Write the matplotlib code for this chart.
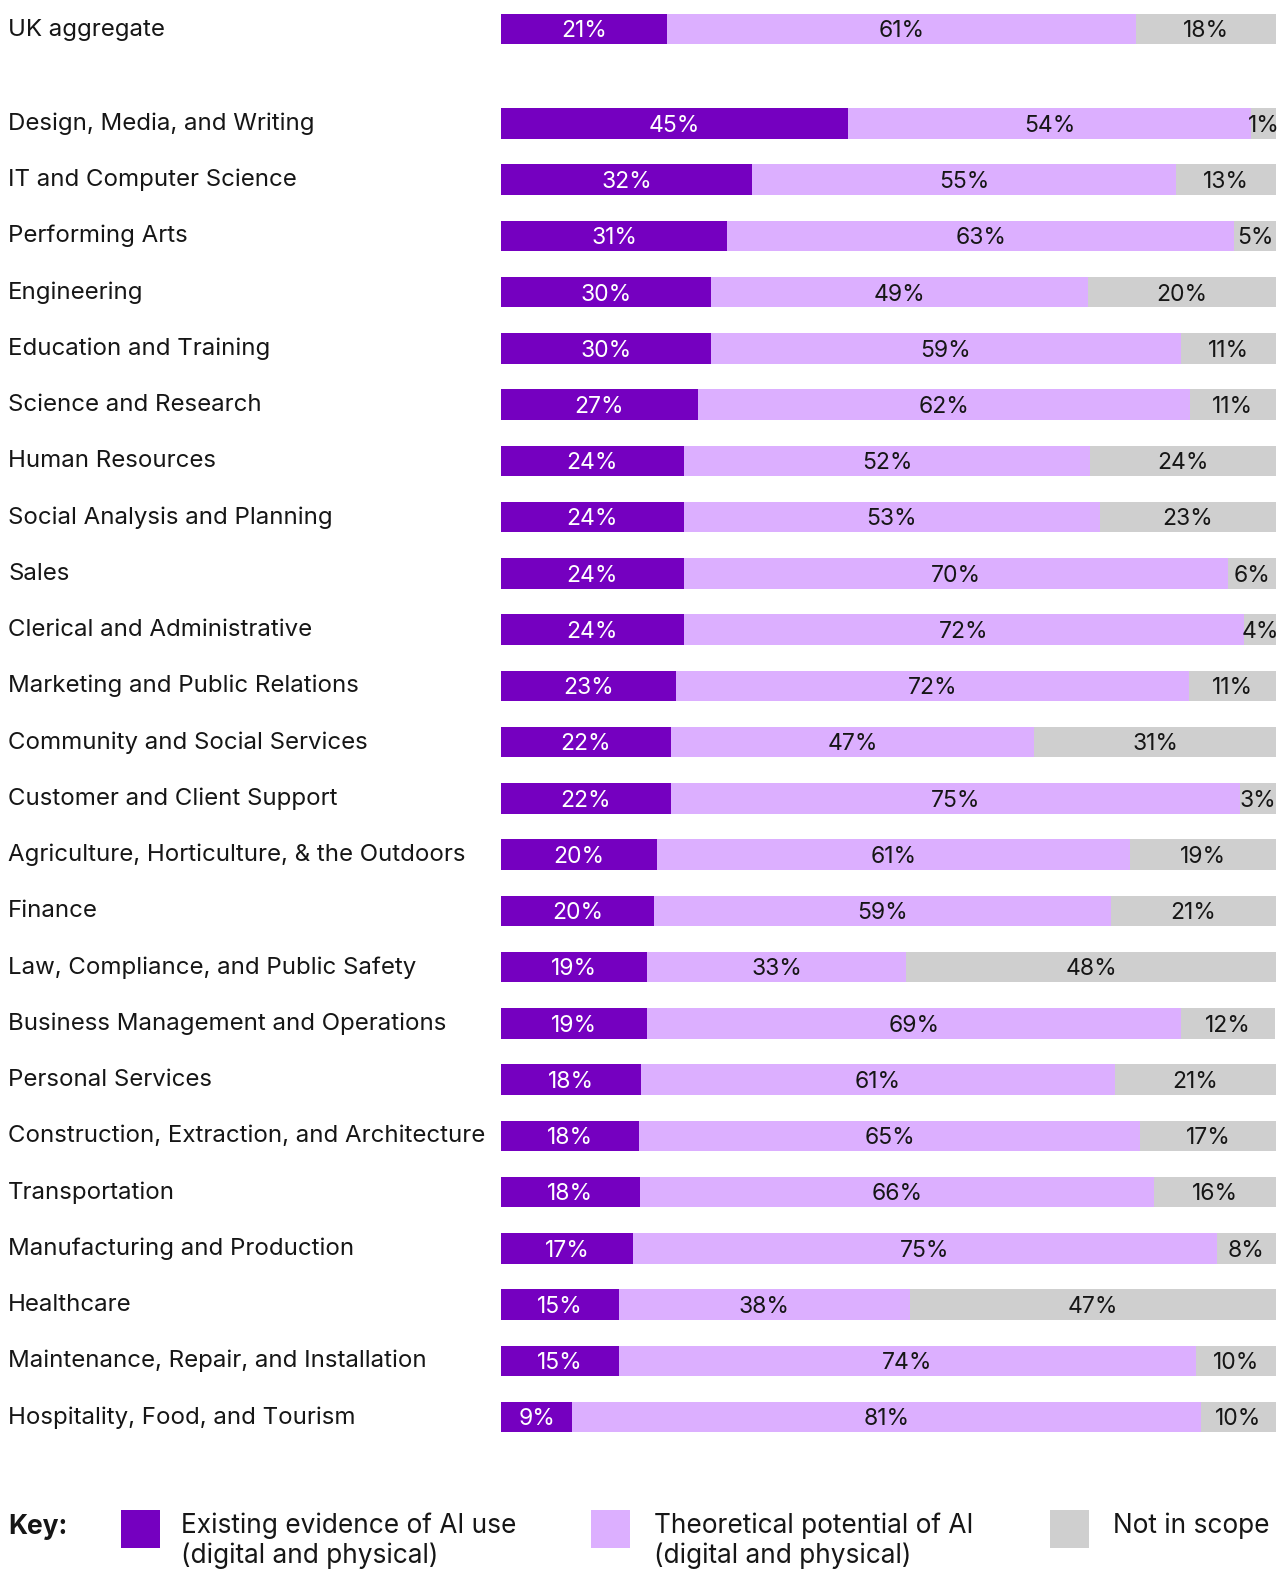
import matplotlib
matplotlib.use("Agg")
import matplotlib.pyplot as plt
from matplotlib.patches import Rectangle
from matplotlib.transforms import blended_transform_factory, offset_copy

plt.rcParams['font.family'] = ['Inter', 'DejaVu Sans']

categories = [
    "UK aggregate",
    "Design, Media, and Writing",
    "IT and Computer Science",
    "Performing Arts",
    "Engineering",
    "Education and Training",
    "Science and Research",
    "Human Resources",
    "Social Analysis and Planning",
    "Sales",
    "Clerical and Administrative",
    "Marketing and Public Relations",
    "Community and Social Services",
    "Customer and Client Support",
    "Agriculture, Horticulture, & the Outdoors",
    "Finance",
    "Law, Compliance, and Public Safety",
    "Business Management and Operations",
    "Personal Services",
    "Construction, Extraction, and Architecture",
    "Transportation",
    "Manufacturing and Production",
    "Healthcare",
    "Maintenance, Repair, and Installation",
    "Hospitality, Food, and Tourism",
]

# Bar segment widths as drawn in the picture (% of full bar)
existing = [21.4, 44.8, 32.4, 29.2, 27.1, 27.1, 25.4, 23.6, 23.6, 23.6, 23.6, 22.6,
            21.9, 21.9, 20.1, 19.7, 18.8, 18.8, 18.1, 17.8, 17.9, 17.0, 15.2, 15.2, 9.2]
theoretical = [60.5, 52.0, 54.7, 65.4, 48.7, 60.6, 63.5, 52.4, 53.7, 70.2, 72.3, 66.2,
               46.9, 73.5, 61.1, 59.0, 33.5, 68.9, 61.1, 64.7, 66.4, 75.4, 37.6, 74.5, 81.1]
not_in_scope = [18.1, 3.2, 12.9, 5.4, 24.2, 12.3, 11.1, 24.0, 22.7, 6.2, 4.1, 11.2,
                31.2, 4.6, 18.8, 21.3, 47.7, 12.2, 20.8, 17.5, 15.7, 7.6, 47.2, 10.3, 9.7]

# Printed labels
existing_lbl = [21, 45, 32, 31, 30, 30, 27, 24, 24, 24, 24, 23, 22, 22, 20, 20, 19, 19,
                18, 18, 18, 17, 15, 15, 9]
theoretical_lbl = [61, 54, 55, 63, 49, 59, 62, 52, 53, 70, 72, 72, 47, 75, 61, 59, 33, 69,
                   61, 65, 66, 75, 38, 74, 81]
not_in_scope_lbl = [18, 1, 13, 5, 20, 11, 11, 24, 23, 6, 4, 11, 31, 3, 19, 21, 48, 12,
                    21, 17, 16, 8, 47, 10, 10]

legend_labels = [["Existing evidence of AI use", "(digital and physical)"],
                 ["Theoretical potential of AI", "(digital and physical)"],
                 ["Not in scope"]]

C_DARK = "#7500C0"
C_LIGHT = "#DCAFFF"
C_GRAY = "#CFCFCF"
TXT = "#161616"

W, H = 1277, 1569
fig = plt.figure(figsize=(W / 100, H / 100), dpi=100)
fig.patch.set_facecolor("white")

ax_top, ax_bot = 0, 1460
row0, step = 123.5, 56.24
ax = fig.add_axes([501 / W, (H - ax_bot) / H, 775 / W, (ax_bot - ax_top) / H])
ax.set_xlim(0, 100)
ax.set_ylim((ax_bot - row0) / step, (ax_top - row0) / step)
ax.axis("off")

ypos = [(29 - row0) / step] + list(range(len(categories) - 1))
bh = 30.5 / step

ax.barh(ypos, existing, height=bh, color=C_DARK, linewidth=0)
ax.barh(ypos, theoretical, left=existing, height=bh, color=C_LIGHT, linewidth=0)
left2 = [a + b for a, b in zip(existing, theoretical)]
ax.barh(ypos, not_in_scope, left=left2, height=bh, color=C_GRAY, linewidth=0)

FS_VAL = 16.5
FS_CAT = 17.3
val_tr = offset_copy(ax.transData, fig=fig, x=0, y=-8.3, units="dots")
for i, y in enumerate(ypos):
    ax.text(existing[i] / 2, y, f"{existing_lbl[i]}%", transform=val_tr,
            ha="center", va="baseline", color="white", fontsize=FS_VAL)
    ax.text(existing[i] + theoretical[i] / 2, y, f"{theoretical_lbl[i]}%", transform=val_tr,
            ha="center", va="baseline", color=TXT, fontsize=FS_VAL)
    ax.text(left2[i] + not_in_scope[i] / 2, y, f"{not_in_scope_lbl[i]}%", transform=val_tr,
            ha="center", va="baseline", color=TXT, fontsize=FS_VAL)

cat_tr = offset_copy(blended_transform_factory(fig.transFigure, ax.transData),
                     fig=fig, x=0, y=-6.5, units="dots")
for y, c in zip(ypos, categories):
    fig.text(8 / W, y, c, transform=cat_tr, ha="left", va="baseline",
             color=TXT, fontsize=FS_CAT)

# Key
def fy(p):
    return 1 - p / H

fig.text(8 / W, fy(1534), "Key:", fontsize=19, fontweight="bold", color=TXT,
         ha="left", va="baseline")
sq_x = [121, 591, 1050]
tx_x = [181, 654, 1113]
cols = [C_DARK, C_LIGHT, C_GRAY]
line_base = [1533, 1563]
for sx, tx, col, lab in zip(sq_x, tx_x, cols, legend_labels):
    fig.add_artist(Rectangle((sx / W, fy(1548)), 39 / W, 38 / H,
                             transform=fig.transFigure, color=col, linewidth=0))
    for ln, yb in zip(lab, line_base):
        fig.text(tx / W, fy(yb), ln, fontsize=18.9, color=TXT, ha="left", va="baseline")

fig.savefig("out.png", dpi=100, facecolor="white")
